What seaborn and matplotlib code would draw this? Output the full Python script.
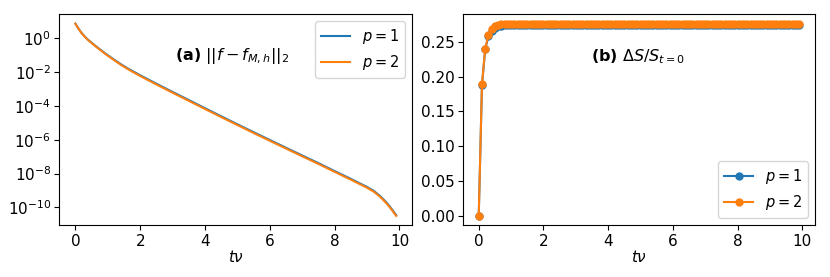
import matplotlib
matplotlib.use("Agg")
import matplotlib.pyplot as plt
import seaborn as sns
import numpy as np
import pandas as pd

# ---- data panel (a): L2 error vs t*nu ----
t_a = [0.0, 0.1, 0.2, 0.3, 0.4, 0.5, 0.6, 0.7, 0.8, 0.9, 1.0, 1.2, 1.4, 1.6,
       1.8, 2.0, 2.5, 3.0, 3.5, 4.0, 4.5, 5.0, 5.5, 6.0, 6.5, 7.0, 7.5, 8.0,
       8.5, 9.0, 9.2, 9.4, 9.5, 9.6, 9.7, 9.8, 9.85, 9.9]
err_p1 = [7.4, 3.65, 1.97, 1.21, 0.79, 0.55, 0.38, 0.27, 0.192, 0.137,
          0.0995, 0.0538, 0.0297, 0.0172, 0.0105, 6.5e-3, 2.06e-3, 6.7e-4,
          2.23e-4, 7.35e-5, 2.44e-5, 8.2e-6, 2.8e-6, 9.7e-7, 3.36e-7, 1.17e-7,
          4.14e-8, 1.4e-8, 4.86e-9, 1.61e-9, 9.7e-10, 4.75e-10, 3.06e-10,
          1.94e-10, 1.13e-10, 6.4e-11, 4.64e-11, 3.5e-11]
err_p2 = [7.24, 3.55, 1.91, 1.17, 0.76, 0.525, 0.363, 0.257, 0.182, 0.129,
          0.0933, 0.0501, 0.0275, 0.0158, 9.55e-3, 5.89e-3, 1.86e-3, 6.03e-4,
          2.0e-4, 6.6e-5, 2.19e-5, 7.4e-6, 2.51e-6, 8.7e-7, 3.02e-7, 1.05e-7,
          3.72e-8, 1.26e-8, 4.37e-9, 1.45e-9, 8.7e-10, 4.27e-10, 2.75e-10,
          1.74e-10, 1.02e-10, 5.75e-11, 4.17e-11, 3.16e-11]

# ---- data panel (b): relative entropy change ----
t_b = [0.0, 0.1, 0.2, 0.3, 0.4, 0.5, 0.6, 0.7, 0.8, 0.9,
       1.0, 1.1, 1.2, 1.3, 1.4, 1.5, 1.6, 1.7, 1.8, 1.9,
       2.0, 2.1, 2.2, 2.3, 2.4, 2.5, 2.6, 2.7, 2.8, 2.9,
       3.0, 3.1, 3.2, 3.3, 3.4, 3.5, 3.6, 3.7, 3.8, 3.9,
       4.0, 4.1, 4.2, 4.3, 4.4, 4.5, 4.6, 4.7, 4.8, 4.9,
       5.0, 5.1, 5.2, 5.3, 5.4, 5.5, 5.6, 5.7, 5.8, 5.9,
       6.0, 6.1, 6.2, 6.3, 6.4, 6.5, 6.6, 6.7, 6.8, 6.9,
       7.0, 7.1, 7.2, 7.3, 7.4, 7.5, 7.6, 7.7, 7.8, 7.9,
       8.0, 8.1, 8.2, 8.3, 8.4, 8.5, 8.6, 8.7, 8.8, 8.9,
       9.0, 9.1, 9.2, 9.3, 9.4, 9.5, 9.6, 9.7, 9.8, 9.9]
ds_p1 = [0.0, 0.188, 0.239, 0.258, 0.266, 0.270, 0.272, 0.273, 0.2735, 0.274,
         0.274, 0.274, 0.274, 0.274, 0.274, 0.274, 0.274, 0.274, 0.274, 0.274,
         0.274, 0.274, 0.274, 0.274, 0.274, 0.274, 0.274, 0.274, 0.274, 0.274,
         0.274, 0.274, 0.274, 0.274, 0.274, 0.274, 0.274, 0.274, 0.274, 0.274,
         0.274, 0.274, 0.274, 0.274, 0.274, 0.274, 0.274, 0.274, 0.274, 0.274,
         0.274, 0.274, 0.274, 0.274, 0.274, 0.274, 0.274, 0.274, 0.274, 0.274,
         0.274, 0.274, 0.274, 0.274, 0.274, 0.274, 0.274, 0.274, 0.274, 0.274,
         0.274, 0.274, 0.274, 0.274, 0.274, 0.274, 0.274, 0.274, 0.274, 0.274,
         0.274, 0.274, 0.274, 0.274, 0.274, 0.274, 0.274, 0.274, 0.274, 0.274,
         0.274, 0.274, 0.274, 0.274, 0.274, 0.274, 0.274, 0.274, 0.274, 0.274]
ds_p2 = [0.0, 0.189, 0.240, 0.260, 0.268, 0.272, 0.274, 0.275, 0.2755, 0.276,
         0.276, 0.276, 0.276, 0.276, 0.276, 0.276, 0.276, 0.276, 0.276, 0.276,
         0.276, 0.276, 0.276, 0.276, 0.276, 0.276, 0.276, 0.276, 0.276, 0.276,
         0.276, 0.276, 0.276, 0.276, 0.276, 0.276, 0.276, 0.276, 0.276, 0.276,
         0.276, 0.276, 0.276, 0.276, 0.276, 0.276, 0.276, 0.276, 0.276, 0.276,
         0.276, 0.276, 0.276, 0.276, 0.276, 0.276, 0.276, 0.276, 0.276, 0.276,
         0.276, 0.276, 0.276, 0.276, 0.276, 0.276, 0.276, 0.276, 0.276, 0.276,
         0.276, 0.276, 0.276, 0.276, 0.276, 0.276, 0.276, 0.276, 0.276, 0.276,
         0.276, 0.276, 0.276, 0.276, 0.276, 0.276, 0.276, 0.276, 0.276, 0.276,
         0.276, 0.276, 0.276, 0.276, 0.276, 0.276, 0.276, 0.276, 0.276, 0.276]

labels = ["$p=1$", "$p=2$"]
colors = ["#1f77b4", "#ff7f0e"]
yticks_b = [0.00, 0.05, 0.10, 0.15, 0.20, 0.25]

plt.rcParams["font.size"] = 11
fig = plt.figure(figsize=(8.3, 2.77), dpi=100)
ax1 = fig.add_axes([0.0715, 0.186, 0.4252, 0.7635])
ax2 = fig.add_axes([0.5575, 0.186, 0.4245, 0.7635])

# panel (a)
for y, lab, c in zip([err_p1, err_p2], labels, colors):
    sns.lineplot(x=t_a, y=y, ax=ax1, label=lab, color=c, linewidth=1.5)
ax1.set_yscale("log")
ax1.set_xlabel(r"$t\nu$", fontsize=11, labelpad=0)
ax1.set_ylabel("")
ax1.set_xticks([0, 2, 4, 6, 8, 10])
ax1.set_yticks([1e0, 1e-2, 1e-4, 1e-6, 1e-8, 1e-10])
ax1.yaxis.set_minor_locator(matplotlib.ticker.NullLocator())
ax1.tick_params(labelsize=11, pad=2.5)
ax1.text(0.49, 0.80, r"$\mathbf{(a)}$ $||f-f_{M,h}||_2$", transform=ax1.transAxes,
         ha="center", va="center", fontsize=11.5)
ax1.legend(loc="upper right", fontsize=10.5)

# panel (b)
for y, lab, c in zip([ds_p1, ds_p2], labels, colors):
    sns.lineplot(x=t_b, y=y, ax=ax2, label=lab, color=c, linewidth=1.5,
                 marker="o", markersize=6, markeredgewidth=0)
ax2.set_xlabel(r"$t\nu$", fontsize=11, labelpad=0)
ax2.set_ylabel("")
ax2.set_xticks([0, 2, 4, 6, 8, 10])
ax2.set_yticks(yticks_b)
ax2.yaxis.set_major_formatter(matplotlib.ticker.FormatStrFormatter("%.2f"))
ax2.tick_params(labelsize=11, pad=2.5)
ax2.text(0.498, 0.80, r"$\mathbf{(b)}$ $\Delta S/S_{t=0}$", transform=ax2.transAxes,
         ha="center", va="center", fontsize=11.5)
ax2.legend(loc="lower right", fontsize=10.5)

fig.savefig("out.png", dpi=100)
